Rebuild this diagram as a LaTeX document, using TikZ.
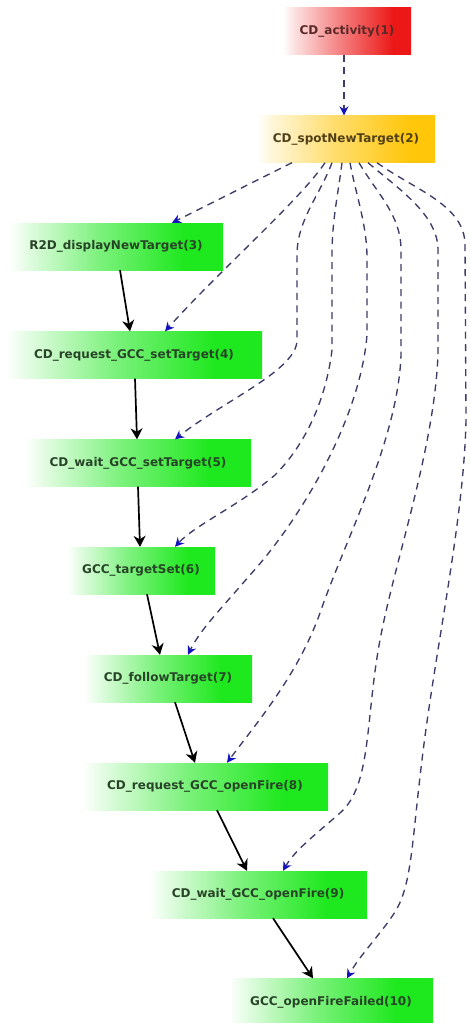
\documentclass[tikz,border=0pt]{standalone}
\usepackage{fontspec}
\setmainfont{DejaVu Sans}
\usetikzlibrary{arrows.meta,calc}
\definecolor{gfull}{RGB}{30,232,30}
\definecolor{rfull}{RGB}{236,24,24}
\definecolor{ofull}{RGB}{255,198,10}
\definecolor{depcol}{RGB}{60,60,105}
\definecolor{headblue}{RGB}{20,20,190}
\definecolor{gtext}{RGB}{40,68,40}
\definecolor{rtext}{RGB}{90,40,40}
\definecolor{otext}{RGB}{80,64,24}
\pgfdeclarehorizontalshading{greenfade}{100bp}{color(0bp)=(white); color(25bp)=(white); color(29bp)=(gfull!12!white); color(46bp)=(gfull!58!white); color(66bp)=(gfull); color(100bp)=(gfull)}
\pgfdeclarehorizontalshading{redfade}{100bp}{color(0bp)=(white); color(25bp)=(white); color(29bp)=(rfull!12!white); color(46bp)=(rfull!52!white); color(68bp)=(rfull); color(100bp)=(rfull)}
\pgfdeclarehorizontalshading{orangefade}{100bp}{color(0bp)=(white); color(25bp)=(white); color(29bp)=(ofull!15!white); color(46bp)=(ofull!58!white); color(68bp)=(ofull); color(100bp)=(ofull)}
\tikzset{
  act/.style={minimum height=47pt, inner sep=0pt,
    font=\bfseries\fontsize{12}{14}\selectfont},
  gnode/.style={act, shading=greenfade, text=gtext},
  rnode/.style={act, shading=redfade, text=rtext},
  onode/.style={act, shading=orangefade, text=otext},
  flow/.style={draw=black, line width=1.7pt,
    -{Stealth[length=11pt,width=12pt,inset=3.5pt]}},
  dep/.style={draw=depcol, line width=1.35pt, dash pattern=on 7pt off 5.5pt,
    -{Stealth[length=9pt,width=9pt,inset=3pt,color=headblue,fill=headblue]}}
}
\begin{document}
\begin{tikzpicture}[x=1pt,y=-1pt]
\useasboundingbox (0,0) rectangle (470,1023);
\node[rnode, minimum width=128pt] (n1) at (347,31) {CD\_activity(1)};
\node[onode, minimum width=178pt] (n2) at (346,139) {CD\_spotNewTarget(2)};
\node[gnode, minimum width=214pt] (n3) at (116,246.5) {R2D\_displayNewTarget(3)};
\node[gnode, minimum width=256pt] (n4) at (134,355) {CD\_request\_GCC\_setTarget(4)};
\node[gnode, minimum width=226pt] (n5) at (138,463) {CD\_wait\_GCC\_setTarget(5)};
\node[gnode, minimum width=148pt] (n6) at (141,570.5) {GCC\_targetSet(6)};
\node[gnode, minimum width=168pt] (n7) at (168,678.5) {CD\_followTarget(7)};
\node[gnode, minimum width=246pt] (n8) at (205,786.5) {CD\_request\_GCC\_openFire(8)};
\node[gnode, minimum width=218pt] (n9) at (258,894.5) {CD\_wait\_GCC\_openFire(9)};
\node[gnode, minimum width=204pt] (n10) at (331,1002) {GCC\_openFireFailed(10)};

% control flow
\draw[flow] ([xshift=4pt]n3.south) -- ([xshift=-4pt]n4.north);
\draw[flow] ([xshift=1pt]n4.south) -- ([xshift=-1pt]n5.north);
\draw[flow] (n5.south) -- ([xshift=-1pt]n6.north);
\draw[flow] ([xshift=6pt]n6.south) -- ([xshift=-8pt]n7.north);
\draw[flow] ([xshift=7pt]n7.south) -- ([xshift=-10pt]n8.north);
\draw[flow] ([xshift=12pt]n8.south) -- ([xshift=-11pt]n9.north);
\draw[flow] ([xshift=15pt]n9.south) -- ([xshift=-18pt]n10.north);

% dependencies
\draw[dep] ([xshift=-3pt]n1.south) -- ([xshift=-2pt]n2.north);
\draw[dep] ([xshift=-54pt]n2.south) -- ([xshift=56pt]n3.north);
\draw[dep] ([xshift=-21pt]n2.south) .. controls (300,200) and (220,270) .. ([xshift=31pt]n4.north);
\draw[dep] ([xshift=-14pt]n2.south) .. controls (320,195) and (297,220) .. (297,255) -- (297,340)
  .. controls (297,370) and (225,400) .. ([xshift=37pt]n5.north);
\draw[dep] ([xshift=-4pt]n2.south) .. controls (338,195) and (332,220) .. (332,255) -- (332,350)
  .. controls (326,400) and (305,445) .. (275,475)
  .. controls (240,505) and (195,525) .. ([xshift=34pt]n6.north);
\draw[dep] ([xshift=4pt]n2.south) .. controls (356,195) and (367,225) .. (367,258) -- (367,335)
  .. controls (360,420) and (300,520) .. (250,575)
  .. controls (220,610) and (200,630) .. ([xshift=20pt]n7.north);
\draw[dep] ([xshift=13pt]n2.south) .. controls (378,195) and (401,215) .. (401,250) -- (401,355)
  .. controls (398,440) and (345,540) .. (320,613)
  .. controls (298,675) and (255,725) .. ([xshift=22pt]n8.north);
\draw[dep] ([xshift=22pt]n2.south) .. controls (400,190) and (438,215) .. (438,250) -- (438,355)
  .. controls (434,450) and (395,560) .. (380,640)
  .. controls (365,720) and (372,785) .. (340,813)
  .. controls (315,835) and (295,850) .. ([xshift=25pt]n9.north);
\draw[dep] ([xshift=31pt]n2.south) .. controls (415,190) and (465,205) .. (465,245) -- (466,420)
  .. controls (464,520) and (435,650) .. (422,760)
  .. controls (412,840) and (412,885) .. (395,912)
  .. controls (380,935) and (360,955) .. ([xshift=16pt]n10.north);
\end{tikzpicture}
\end{document}
